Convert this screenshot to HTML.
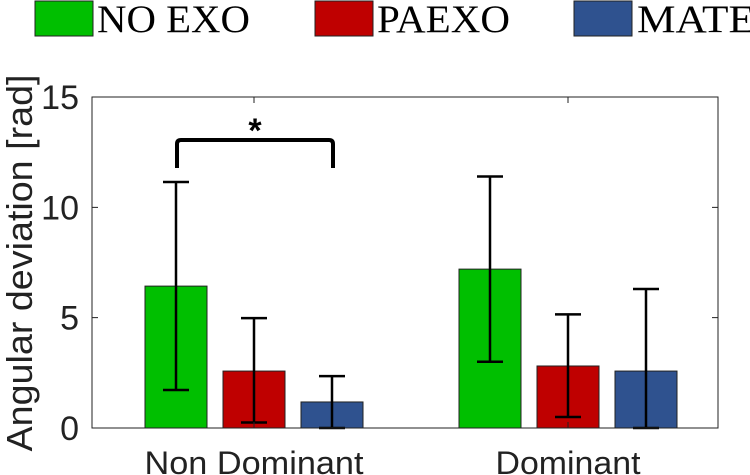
<!DOCTYPE html>
<html><head><meta charset="utf-8"><style>
body{margin:0;background:#fff;width:750px;height:475px;overflow:hidden}
svg{display:block;font-family:"Liberation Sans",sans-serif}
</style></head><body>
<svg id="c" width="750" height="475">
<g>
<rect x="35" y="1" width="58" height="35" fill="#00bf00" stroke="#222"/>
<text x="97" y="32" font-family="Liberation Serif,serif" font-size="39" textLength="153" lengthAdjust="spacingAndGlyphs">NO EXO</text>
<rect x="315" y="1" width="58" height="35" fill="#bf0000" stroke="#222"/>
<text x="377" y="32" font-family="Liberation Serif,serif" font-size="39" textLength="133" lengthAdjust="spacingAndGlyphs">PAEXO</text>
<rect x="574" y="1" width="58" height="35" fill="#2f528f" stroke="#222"/>
<text x="637" y="32" font-family="Liberation Serif,serif" font-size="39" textLength="118" lengthAdjust="spacingAndGlyphs">MATE</text>
</g>
<g id="plot"></g>
</svg>
<script>
const categories=["Non Dominant","Dominant"];
const noExo=[6.43,7.2];
const paexo=[2.58,2.81];
const mate=[1.18,2.58];
const noExoLo=[1.72,3.0], noExoHi=[11.15,11.4];
const paexoLo=[0.25,0.5], paexoHi=[4.98,5.15];
const mateLo=[0.0,0.0], mateHi=[2.35,6.3];
const yTicks=[0,5,10,15];
const NS="http://www.w3.org/2000/svg";
const L=92,R=718,T=97,B=428;
const y=v=>B-(v/15)*(B-T);
const cx=i=>254+i*314;
const g=document.getElementById('plot');
function mk(tag,attrs){const e=document.createElementNS(NS,tag);for(const k in attrs)e.setAttribute(k,attrs[k]);g.appendChild(e);return e;}
const series=[[noExo,noExoLo,noExoHi,"#00bf00","no-exo"],[paexo,paexoLo,paexoHi,"#bf0000","paexo"],[mate,mateLo,mateHi,"#2f528f","mate"]];
series.forEach((s,j)=>{
 categories.forEach((c,i)=>{
  const x=cx(i)+(j-1)*78;
  const b=mk('rect',{x:x-31,y:y(s[0][i]),width:62,height:y(0)-y(s[0][i]),fill:s[3],stroke:"#222","stroke-width":1});
  
  
  const e=mk('path',{d:`M${x},${y(s[1][i])}V${y(s[2][i])}M${x-13},${y(s[1][i])}H${x+13}M${x-13},${y(s[2][i])}H${x+13}`,stroke:"#000","stroke-width":2.5,fill:"none"});
  
  
 });
});
const ax=mk('rect',{x:L,y:T,width:R-L,height:B-T,fill:"none",stroke:"#222","stroke-width":1});


yTicks.forEach(v=>{
 mk('path',{d:`M${L},${y(v)}h6M${R},${y(v)}h-6`,stroke:"#222"});
 const t=mk('text',{x:L-13,y:y(v)+12,"text-anchor":"end","font-size":34,fill:"#222"});
 t.textContent=v;
 
 
});
categories.forEach((c,i)=>{
 mk('path',{d:`M${cx(i)},${T}v6M${cx(i)},${B}v-6`,stroke:"#222"});
 const t=mk('text',{x:cx(i),y:474,"text-anchor":"middle","font-size":32,fill:"#222",textLength:i===0?219:145,lengthAdjust:"spacingAndGlyphs"});
 t.textContent=c;
 
 
});
const yl=mk('text',{transform:"translate(32,263) rotate(-90)","text-anchor":"middle","font-size":36,fill:"#222",textLength:377,lengthAdjust:"spacingAndGlyphs"});
yl.textContent="Angular deviation [rad]";


const br=mk('path',{d:"M177,168V144q0,-4 4,-4H329q4,0 4,4V168",stroke:"#000","stroke-width":4,fill:"none"});


const st=mk('text',{x:255,y:142,"text-anchor":"middle","font-size":34,"font-weight":"bold"});
st.textContent="*";


</script>
</body></html>
